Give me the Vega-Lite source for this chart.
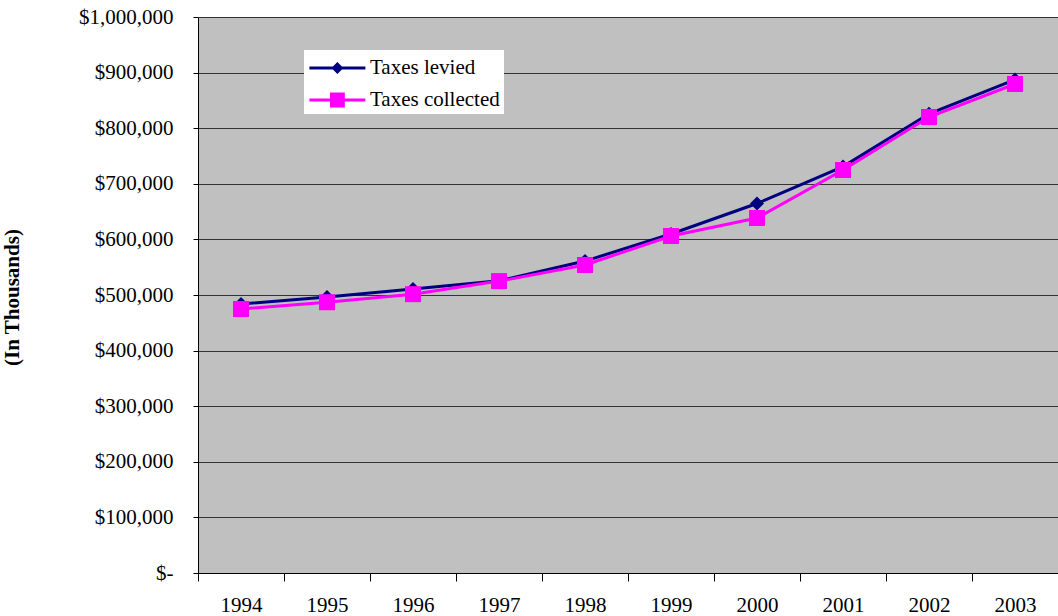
{
  "$schema": "https://vega.github.io/schema/vega-lite/v6.json",
  "autosize": "none",
  "width": 860,
  "height": 556,
  "padding": {"left": 198, "top": 17, "right": 0, "bottom": 43},
  "background": "white",
  "config": {
    "font": "Liberation Serif",
    "view": {"fill": "#C0C0C0", "stroke": null}
  },
  "data": {
    "values": [
      {"year": "1994", "series": "Taxes levied", "value": 483800},
      {"year": "1995", "series": "Taxes levied", "value": 496400},
      {"year": "1996", "series": "Taxes levied", "value": 510800},
      {"year": "1997", "series": "Taxes levied", "value": 525500},
      {"year": "1998", "series": "Taxes levied", "value": 561000},
      {"year": "1999", "series": "Taxes levied", "value": 609700},
      {"year": "2000", "series": "Taxes levied", "value": 664500},
      {"year": "2001", "series": "Taxes levied", "value": 731000},
      {"year": "2002", "series": "Taxes levied", "value": 826000},
      {"year": "2003", "series": "Taxes levied", "value": 887500},
      {"year": "1994", "series": "Taxes collected", "value": 474800},
      {"year": "1995", "series": "Taxes collected", "value": 487000},
      {"year": "1996", "series": "Taxes collected", "value": 501500},
      {"year": "1997", "series": "Taxes collected", "value": 525000},
      {"year": "1998", "series": "Taxes collected", "value": 554000},
      {"year": "1999", "series": "Taxes collected", "value": 606100},
      {"year": "2000", "series": "Taxes collected", "value": 638500},
      {"year": "2001", "series": "Taxes collected", "value": 724800},
      {"year": "2002", "series": "Taxes collected", "value": 820100},
      {"year": "2003", "series": "Taxes collected", "value": 879500}
    ]
  },
  "encoding": {
    "x": {
      "field": "year", "type": "ordinal",
      "scale": {"type": "band", "paddingInner": 0, "paddingOuter": 0},
      "axis": {
        "title": null, "labelAngle": 0, "tickBand": "extent", "grid": false,
        "domainColor": "black", "domainWidth": 1, "tickColor": "black", "tickSize": 8,
        "labelFontSize": 21, "labelColor": "black", "labelPadding": 13
      }
    },
    "y": {
      "field": "value", "type": "quantitative",
      "scale": {"domain": [0, 1000000], "nice": false},
      "axis": {
        "title": "(In Thousands)", "titleFontSize": 21, "titleFontWeight": "bold", "titleColor": "black",
        "titleX": -176, "titleY": 280,
        "values": [0,100000,200000,300000,400000,500000,600000,700000,800000,900000,1000000],
        "labelExpr": "datum.value === 0 ? '$-' : '$' + format(datum.value, ',')",
        "labelFontSize": 21, "labelColor": "black", "labelPadding": 20,
        "tickSize": 5, "tickColor": "black", "domainColor": "black",
        "grid": true, "gridColor": "#333333", "gridWidth": 1
      }
    },
    "color": {
      "field": "series", "type": "nominal",
      "scale": {"domain": ["Taxes levied", "Taxes collected"], "range": ["#000080", "#FF00FF"]},
      "legend": {
        "title": null, "orient": "none", "legendX": 106, "legendY": 33,
        "fillColor": "white", "padding": 4, "labelFontSize": 21, "labelColor": "black",
        "symbolSize": 784, "rowPadding": 8, "labelOffset": 34,
        "symbolType": "M-1,-0.1H3V0.1H-1Z",
        "symbolStrokeWidth": 0,
        "encode": {
          "symbols": {
            "update": {
              "shape": {"signal": "datum.value === 'Taxes levied' ? 'M-0.9,-0.1H3.1V0.1H-0.9Z M1.1,-0.43L1.53,0L1.1,0.43L0.67,0Z' : 'M-0.9,-0.1H3.1V0.1H-0.9Z M0.57,-0.53H1.63V0.53H0.57Z'"},
              "size": {"value": 784},
              "strokeWidth": {"value": 0}
            }
          }
        }
      }
    }
  },
  "layer": [
    {
      "mark": {"type": "line", "strokeWidth": 3}
    },
    {
      "transform": [{"filter": "datum.series === 'Taxes levied'"}],
      "mark": {"type": "point", "filled": true, "opacity": 1, "shape": "diamond", "size": 196}
    },
    {
      "transform": [{"filter": "datum.series === 'Taxes collected'"}],
      "mark": {"type": "point", "filled": true, "opacity": 1, "shape": "square", "size": 256}
    }
  ]
}
